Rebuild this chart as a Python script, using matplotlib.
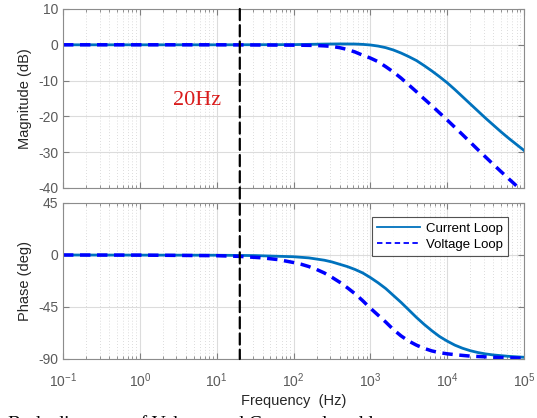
import matplotlib
matplotlib.use("Agg")
import matplotlib.pyplot as plt
import numpy as np
from matplotlib.patches import ConnectionPatch
from matplotlib.ticker import LogLocator, FixedLocator

# values (log10 of frequency in Hz)
mag_cur_logf = [-1, 1, 2.0, 2.4, 2.6, 2.8, 2.9, 3.0, 3.1, 3.2, 3.3, 3.4, 3.5, 3.6, 3.7, 3.8, 3.9,
                4.0, 4.1, 4.2, 4.3, 4.4, 4.5, 4.6, 4.7, 4.8, 4.9, 5.0]
mag_cur_db = [0, 0, 0.05, 0.2, 0.25, 0.22, 0.12, -0.05, -0.35, -0.8, -1.45, -2.3, -3.3, -4.4, -5.8, -7.3, -8.9,
              -10.6, -12.5, -14.5, -16.5, -18.5, -20.5, -22.4, -24.3, -26.1, -27.8, -29.5]

mag_vol_logf = [-1, 1, 2.0, 2.2, 2.3, 2.4, 2.5, 2.6, 2.7, 2.8, 2.9, 3.0, 3.1, 3.2, 3.3, 3.4, 3.5, 3.6, 3.7,
                3.8, 3.9, 4.0, 4.2, 4.4, 4.6, 4.8, 5.0]
mag_vol_db = [0, 0, -0.1, -0.15, -0.2, -0.3, -0.45, -0.8, -1.3, -2.0, -2.9, -3.7, -4.7, -6.1, -7.6, -9.3, -11.2,
              -13.1, -15.1, -17.0, -19.0, -21.0, -25.1, -29.3, -33.4, -37.4, -41.3]

ph_cur_logf = [-1, 1, 1.5, 2.0, 2.2, 2.4, 2.5, 2.6, 2.7, 2.8, 2.9, 3.0, 3.1, 3.2, 3.3, 3.4, 3.5, 3.6, 3.7,
               3.8, 3.9, 4.0, 4.1, 4.2, 4.3, 4.4, 4.5, 4.6, 4.8, 5.0]
ph_cur_deg = [0, -0.2, -0.5, -1.5, -2.5, -4.5, -6, -8, -10, -12.5, -15.5, -19.5, -24, -29, -35, -41, -47.5, -54, -60,
              -65.5, -70.5, -74.5, -78, -80.7, -82.8, -84.4, -85.6, -86.5, -87.7, -88.5]

ph_vol_logf = [-1, 0, 1.0, 1.3, 1.6, 1.8, 2.0, 2.1, 2.2, 2.3, 2.4, 2.5, 2.6, 2.7, 2.8, 2.9, 3.0, 3.1, 3.2,
               3.3, 3.4, 3.5, 3.6, 3.7, 3.8, 3.9, 4.0, 4.15, 4.3, 4.6, 5.0]
ph_vol_deg = [0, -0.1, -0.6, -1.2, -2.5, -4, -6.5, -8, -10, -12.5, -15.5, -19.3, -23.5, -28.3, -33.5, -39.5, -46,
              -52, -58, -64.5, -70, -74.5, -78, -80.8, -83, -84.5, -85.5, -86.6, -87.5, -88.5, -89.3]

f_mark = 20
mag_ticks = [10, 0, -10, -20, -30, -40]
ph_ticks = [45, 0, -45, -90]

cur_color = "#0072BD"
vol_color = "#0000FF"
tick_gray = "#5a5a5a"

plt.rcParams["font.family"] = ["Liberation Sans", "DejaVu Sans"]
plt.rcParams["axes.unicode_minus"] = False

fig = plt.figure(figsize=(5.37, 4.18), dpi=100)
ax1 = fig.add_axes([63 / 537, 1 - 188 / 418, 461 / 537, 179 / 418])
ax2 = fig.add_axes([63 / 537, 1 - 359 / 418, 461 / 537, 156 / 418])

vdash = (0, (3, 1.9))
ax1.plot(10 ** np.array(mag_cur_logf), mag_cur_db, color=cur_color, lw=2, label="Current Loop")
ax1.plot(10 ** np.array(mag_vol_logf), mag_vol_db, color=vol_color, lw=2.5, ls=vdash, label="Voltage Loop")
ax2.plot(10 ** np.array(ph_cur_logf), ph_cur_deg, color=cur_color, lw=2, label="Current Loop")
ax2.plot(10 ** np.array(ph_vol_logf), ph_vol_deg, color=vol_color, lw=2.5, ls=vdash, label="Voltage Loop")

for ax in (ax1, ax2):
    ax.set_xscale("log")
    ax.set_xlim(1e-1, 1e5)
    ax.xaxis.set_major_locator(LogLocator(base=10, numticks=10))
    ax.xaxis.set_minor_locator(LogLocator(base=10, subs=np.arange(2, 10), numticks=20))
    ax.grid(True, which="major", color="#dcdcdc", lw=0.8)
    ax.grid(True, which="minor", color="#d0d0d0", lw=0.6, ls=(0, (1, 2.5)))
    ax.tick_params(which="both", direction="in", top=True, right=True, colors="#7f7f7f",
                   labelcolor=tick_gray, labelsize=10)
    ax.tick_params(which="major", length=4)
    ax.tick_params(which="minor", length=2)
    ax.tick_params(axis="x", pad=9)
    for s in ax.spines.values():
        s.set_color("#8c8c8c")
        s.set_linewidth(0.8)

ax1.set_ylim(-40, 10)
ax1.yaxis.set_major_locator(FixedLocator(mag_ticks))
ax1.tick_params(labelbottom=False)
ax1.set_ylabel("Magnitude (dB)", fontsize=10.5, color="#262626", labelpad=4)

ax2.set_ylim(-90, 45)
ax2.yaxis.set_major_locator(FixedLocator(ph_ticks))
ax2.set_ylabel("Phase (deg)", fontsize=10.5, color="#262626", labelpad=4)
ax2.set_xlabel("Frequency  (Hz)", fontsize=10.5, color="#262626", labelpad=3)

leg = ax2.legend(loc="upper right", bbox_to_anchor=(0.965, 0.91), borderaxespad=0, fontsize=9.5,
                 frameon=True, fancybox=False, edgecolor="#262626", handlelength=3.3, borderpad=0.4,
                 labelspacing=0.3, handletextpad=0.4)
leg.get_frame().set_linewidth(0.8)
for ln in leg.get_lines():
    ln.set_linewidth(1.3)

# 20 Hz marker spanning both panels
con = ConnectionPatch(xyA=(f_mark, 10), coordsA=ax1.transData,
                      xyB=(f_mark, -90), coordsB=ax2.transData,
                      color="black", lw=1.6, ls=(0, (5, 2.3)), zorder=5)
fig.add_artist(con)

ax1.text(5.6, -15.5, "20Hz", color="#d91c1c", fontsize=16, family=["Liberation Serif", "DejaVu Serif"],
         ha="center", va="center")

# caption, mostly cut off at the bottom edge of the picture
fig.text(8 / 537, -11 / 418, "Bode diagrams of Voltage and Current closed loops",
         family=["Liberation Serif", "DejaVu Serif"], fontsize=14, color="black",
         ha="left", va="baseline")

fig.savefig("out.png", dpi=100)
